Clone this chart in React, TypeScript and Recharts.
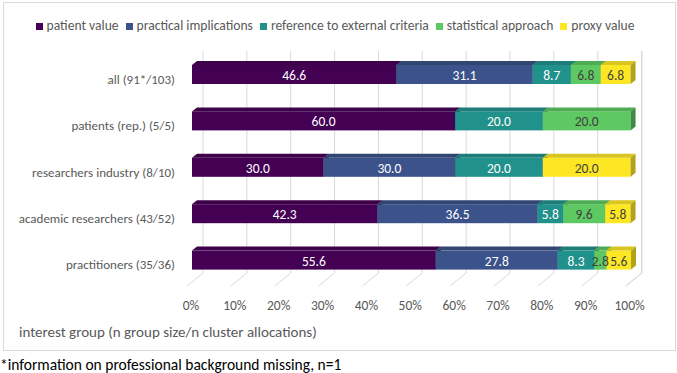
import { BarChart, Bar, XAxis, YAxis, CartesianGrid, LabelList } from "recharts";

const groups = [
  "all (91*/103)",
  "patients (rep.) (5/5)",
  "researchers industry (8/10)",
  "academic researchers (43/52)",
  "practitioners (35/36)",
];
const patientValue = [46.6, 60.0, 30.0, 42.3, 55.6];
const practicalImplications = [31.1, 0, 30.0, 36.5, 27.8];
const externalCriteria = [8.7, 20.0, 20.0, 5.8, 8.3];
const statisticalApproach = [6.8, 20.0, 0, 9.6, 2.8];
const proxyValue = [6.8, 0, 20.0, 5.8, 5.6];
const xTicks = [0, 10, 20, 30, 40, 50, 60, 70, 80, 90, 100];

const FONT = "Carlito, Lato, sans-serif";

const series = [
  { key: "pv", name: "patient value", values: patientValue, front: "#440154", top: "#3c0149", side: "#2c0036", text: "#ffffff" },
  { key: "pi", name: "practical implications", values: practicalImplications, front: "#3b528b", top: "#324672", side: "#283a5f", text: "#ffffff" },
  { key: "ec", name: "reference to external criteria", values: externalCriteria, front: "#21918c", top: "#1c7d79", side: "#156562", text: "#ffffff" },
  { key: "sa", name: "statistical approach", values: statisticalApproach, front: "#5ec962", top: "#4fac53", side: "#3f8b42", text: "#404040" },
  { key: "px", name: "proxy value", values: proxyValue, front: "#fde725", top: "#d8c51f", side: "#b3a31a", text: "#404040" },
];

const data = groups.map((name, i) => {
  const row: any = { name };
  series.forEach((s) => (row[s.key] = s.values[i]));
  return row;
});

const DX = 5;
const DY = 4;

function Bar3D(props: any) {
  const { x, y, width, height, front, top, side } = props;
  if (!width || width <= 0) return null;
  const xe = x + width;
  return (
    <g>
      <rect x={x} y={y} width={width} height={height} fill={front} />
      <polygon points={`${x},${y} ${xe},${y} ${xe + DX},${y - DY} ${x + DX},${y - DY}`} fill={top} />
      <polygon points={`${xe},${y} ${xe + DX},${y - DY} ${xe + DX},${y + height - DY} ${xe},${y + height}`} fill={side} />
    </g>
  );
}

function gridLine(props: any) {
  const { x1, y1, y2, index } = props;
  return (
    <polyline
      key={`g-${index}`}
      points={`${x1 + 11},${y1} ${x1 + 11},${y2 - 10} ${x1 - 5},${y2 + 3}`}
      fill="none"
      stroke="#d9d9d9"
      strokeWidth={1}
    />
  );
}

export default function App() {
  return (
    <div style={{ position: "absolute", left: 0, top: 0, width: 677, height: 373, background: "#fff", fontFamily: FONT }}>
      <div style={{ position: "absolute", left: 3, top: 2, width: 671, height: 347, border: "1px solid #d9d9d9" }} />

      <div
        style={{
          position: "absolute",
          left: 0,
          top: 17,
          width: 677,
          display: "flex",
          justifyContent: "center",
          fontSize: 13.6,
          color: "#595959",
          lineHeight: "18px",
        }}
      >
        {series.map((s) => (
          <div key={s.key} style={{ display: "flex", alignItems: "center", marginRight: 7 }}>
            <span style={{ width: 7, height: 7, background: s.front, marginRight: 4, display: "inline-block" }} />
            <span>{s.name}</span>
          </div>
        ))}
      </div>

      <div style={{ position: "absolute", left: 0, top: 0 }}>
        <BarChart
          width={677}
          height={373}
          data={data}
          layout="vertical"
          margin={{ top: 51, right: 46, left: 7, bottom: 60 }}
        >
          <CartesianGrid horizontal={false} vertical={gridLine} />
          <XAxis
            type="number"
            domain={[0, 100]}
            ticks={xTicks}
            axisLine={false}
            tickLine={false}
            height={30}
            tick={(p: any) => (
              <text x={p.x - 1} y={305} textAnchor="middle" dominantBaseline="central" fontSize={13.5} fill="#595959" fontFamily={FONT}>
                {`${p.payload.value}%`}
              </text>
            )}
          />
          <YAxis
            type="category"
            dataKey="name"
            width={185}
            axisLine={false}
            tickLine={false}
            tick={(p: any) => (
              <text x={175} y={p.y + 5} textAnchor="end" dominantBaseline="central" fontSize={13} fill="#595959" fontFamily={FONT}>
                {p.payload.value}
              </text>
            )}
          />
          {series.map((s) => (
            <Bar
              key={s.key}
              dataKey={s.key}
              name={s.name}
              stackId="a"
              barSize={19}
              fill={s.front}
              isAnimationActive={false}
              shape={(p: any) => <Bar3D {...p} front={s.front} top={s.top} side={s.side} />}
            >
              <LabelList
                dataKey={s.key}
                content={(p: any) => {
                  const v = Number(p.value);
                  if (!v) return null;
                  return (
                    <text
                      x={p.x + p.width / 2}
                      y={p.y + p.height / 2 + 1}
                      textAnchor="middle"
                      dominantBaseline="central"
                      fontSize={13.5}
                      fill={s.text}
                      fontFamily={FONT}
                    >
                      {v.toFixed(1)}
                    </text>
                  );
                }}
              />
            </Bar>
          ))}
        </BarChart>
      </div>

      <div style={{ position: "absolute", left: 19, top: 323, fontSize: 15, color: "#595959", lineHeight: "18px", whiteSpace: "nowrap" }}>
        interest group (n group size/n cluster allocations)
      </div>
      <div style={{ position: "absolute", left: 0, top: 355, fontSize: 15.5, color: "#000", lineHeight: "20px", whiteSpace: "nowrap" }}>
        *information on professional background missing, n=1
      </div>
    </div>
  );
}
